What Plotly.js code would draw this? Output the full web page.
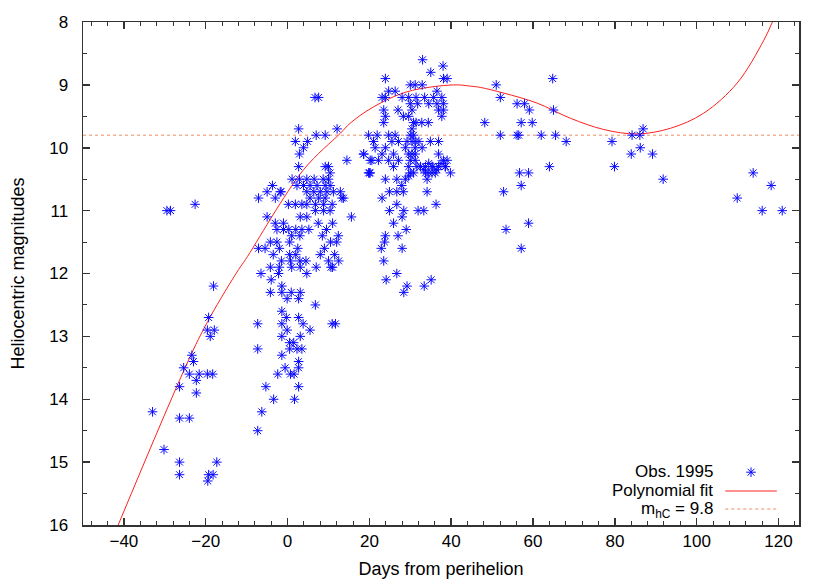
<!DOCTYPE html>
<html>
<head>
<meta charset="utf-8">
<script src="https://cdn.plot.ly/plotly-3.0.1.min.js"></script>
<style>
  body { margin: 0; background: #fff; }
  #plot { width: 830px; height: 581px; }
</style>
</head>
<body>
<div id="plot"></div>
<script>
const earlyDays = [-33, -30.2, -29.5, -28.6, -22.6, -26.4, -26.4, -24, -26.4, -26.4, -25.4, -24, -23.4, -23, -22.3, -22.3, -21.6,
  -19.6, -18.3, -19.3, -19.6, -17.9, -18.9, -18.1, -17.3, -19.3, -18.2, -19.5];
const earlyMag = [14.2, 14.8, 11.0, 11.0, 10.9, 13.8, 14.3, 14.3, 15.0, 15.2, 13.5, 13.6, 13.3, 13.4, 13.7, 13.9, 13.6,
  13.6, 13.6, 12.7, 12.9, 12.9, 13.0, 12.2, 15.0, 15.2, 15.2, 15.3];

const faintDays = [-6.5, -4.2, -2.2, -4, 0.7, 3.1, 4.7, 10.6, -1.4, -1.4, -4.2, 0.9, 3.1, -0.1, 2.7, 6.8,
  -1.4, -0.3, 2.7, -7.3, -1.4, 3.8, 10.9, 11.7, -0.1, 5.5, -1.4, 3.1, 0.5, 1.5, -7.3, 0.5, 2.3, 3.5,
  -1.4, 2.7, -0.6, 2.7, -2.4, 0.7, 1.6, -5.3, 2.7, -3.4, 1.7, -6.3, -7.3];
const faintMag = [12.0, 11.9, 12.0, 12.1, 11.8, 11.9, 12.0, 11.9, 12.2, 12.3, 12.3, 12.3, 12.3, 12.4, 12.4, 12.5,
  12.6, 12.7, 12.7, 12.8, 12.8, 12.8, 12.8, 12.8, 12.9, 12.9, 13.0, 13.0, 13.1, 13.1, 13.2, 13.2, 13.2, 13.2,
  13.3, 13.4, 13.5, 13.5, 13.6, 13.6, 13.6, 13.8, 13.8, 14.0, 14.0, 14.2, 14.5];

const nearDays = [6.7, 7.6, 2.7, 7.0, 9.2, 12.1, 1.9, 4.9, 3.9, 2.9, 14.5, 2.7, 9.2, 10.0, 10.4,
  1.1, 2.9, 4.7, 6.5, 8.7, 10.0, -3.7, -1.6, 2.3, 3.9, 5.5, 7.2, 9.2, 10.4,
  -7.1, -5.0, -3.0, -1.8, 0.2, 1.9, 3.5, 4.7, 6.4, 8.0, 9.6, 11.2, 12.9,
  5.5, 7.6, 9.2, 13.3, 13.7, 4.7, 6.8, 8.8, 10.9, 6.8, 8.8, 10.4, 3.1, 4.7, -5.0, 15.6,
  -3.0, -1.0, -2.6, -1.0, 0.3, 2.0, 3.5, 5.2, 7.5, 9.5, 11.0, 12.4,
  -4.2, -2.6, 1.0, 3.0, 8.5, 10.5, 12.0, -7.1, -5.5, -2.0, 0.5, 2.5, 9.0, 11.5,
  -3.5, -1.5, 0.5, 2.0, 4.5, 8.0, 10.0, 12.5, -2.0, 1.0, 3.0, 7.0, 11.0];
const nearMag = [9.2, 9.2, 9.7, 9.8, 9.8, 9.7, 9.9, 9.9, 10.0, 10.1, 10.2, 10.3, 10.3, 10.3, 10.4,
  10.5, 10.5, 10.5, 10.5, 10.5, 10.5, 10.6, 10.7, 10.6, 10.6, 10.6, 10.6, 10.6, 10.6,
  10.8, 10.7, 10.8, 10.7, 10.9, 10.9, 10.9, 10.7, 10.7, 10.7, 10.7, 10.7, 10.7,
  10.8, 10.8, 10.8, 10.8, 10.8, 10.9, 10.9, 10.9, 10.9, 11.0, 11.0, 11.0, 11.1, 11.1, 11.1, 11.1,
  11.2, 11.2, 11.3, 11.3, 11.3, 11.3, 11.3, 11.3, 11.2, 11.3, 11.2, 11.4,
  11.5, 11.5, 11.4, 11.4, 11.4, 11.5, 11.5, 11.6, 11.6, 11.6, 11.5, 11.6, 11.6, 11.7,
  11.7, 11.8, 11.7, 11.7, 11.8, 11.7, 11.8, 11.8, 11.9, 11.9, 11.8, 11.9, 11.9];

const peakDays = [33, 38, 35, 38.1, 39, 23.9, 30, 31.2, 32.9, 24.7, 26.3, 23.9, 23.1, 28,
  29.6, 31.4, 33.5, 30, 31.8, 34.5, 36.5, 35.7, 37.7, 36.5, 38.1, 36.9, 38.1, 37.7,
  23.5, 23.9, 23.5, 27, 28.3, 29.6, 31.4, 32.8, 34.4, 30.4, 30.8,
  19.8, 21, 21.9, 24.7, 25.5, 26.3, 27.1, 29.2, 30, 31.2, 32.1, 34.9, 36.9,
  18.6, 21.4, 23.1, 23.9, 25.9, 28.8, 29.6, 31.2, 32.9, 36.9,
  20.2, 22.2, 24.7, 27.1, 30, 31.2, 38.1, 39,
  25.9, 29.6, 33.7, 35.3, 36.9, 38.6, 39.8, 19.8, 20.2, 30, 34.5, 36.1,
  23.9, 26.7, 28.8, 34.1, 27.9, 26.7, 24.9, 28.3, 34.1, 23.1, 26.7, 36.3,
  24.9, 28.4, 31.9, 33.3, 28, 25.9, 29, 23.9, 27, 23.7, 22.9, 28, 23.5, 26.7, 24.1, 35.1, 33.4, 29.2, 28.4,
  30.4, 30.8, 30.4, 31.2, 30.4, 31.6, 30.8, 29.6, 32.5, 33.3, 34.5, 35.5, 36.5, 37.5, 38.5, 33.7, 35.3,
  18.6, 20.6, 20.0];
const peakMag = [8.6, 8.7, 8.8, 8.9, 8.9, 8.9, 9.0, 9.0, 9.0, 9.1, 9.1, 9.2, 9.2, 9.2,
  9.2, 9.2, 9.2, 9.3, 9.3, 9.3, 9.1, 9.2, 9.2, 9.3, 9.3, 9.4, 9.4, 9.5,
  9.4, 9.5, 9.6, 9.4, 9.5, 9.5, 9.6, 9.6, 9.6, 9.7, 9.8,
  9.8, 9.9, 9.8, 9.8, 9.9, 9.8, 9.9, 9.9, 9.8, 9.9, 9.9, 9.9, 9.9,
  10.1, 10.0, 10.1, 10.0, 10.1, 10.0, 10.1, 10.1, 10.0, 10.1,
  10.2, 10.2, 10.2, 10.2, 10.2, 10.2, 10.2, 10.2,
  10.3, 10.3, 10.3, 10.3, 10.3, 10.3, 10.4, 10.4, 10.4, 10.4, 10.4, 10.4,
  10.5, 10.5, 10.5, 10.5, 10.6, 10.7, 10.7, 10.7, 10.7, 10.8, 10.9, 10.9,
  11.0, 11.0, 11.0, 11.0, 11.1, 11.2, 11.3, 11.4, 11.4, 11.5, 11.6, 11.6, 11.8, 12.0, 12.1, 12.1, 12.2, 12.2, 12.3,
  9.4, 9.6, 9.9, 10.0, 10.1, 10.3, 10.4, 10.45, 10.3, 10.35, 10.25, 10.3, 10.35, 10.25, 10.3, 10.4, 10.4,
  10.1, 10.2, 10.4];

const lateDays = [51, 64.8, 52, 56.1, 57.9, 59.1, 65, 48.2, 57.1, 59.8, 52, 56.1, 56.5, 62, 65.5, 68.1,
  79.3, 84.2, 86.1, 86.9, 84, 86.2, 89.2, 79.9, 91.8, 64, 56.7, 58.9, 57.1, 52.8, 53.4, 58.9, 57.1,
  113.8, 109.9, 118.2, 116, 120.9];
const lateMag = [9.0, 8.9, 9.2, 9.3, 9.3, 9.4, 9.4, 9.6, 9.6, 9.6, 9.8, 9.8, 9.8, 9.8, 9.8, 9.9,
  9.9, 9.8, 9.8, 9.7, 10.1, 10.0, 10.1, 10.3, 10.5, 10.3, 10.4, 10.4, 10.6, 10.7, 11.3, 11.2, 11.6,
  10.4, 10.8, 10.6, 11.0, 11.0];

// polynomial fit
const fitDays = [-41.4, -23.8, -18.9, -12, -10.3, 3.9, 12.9, 15.3, 21, 29.2, 40.6, 44.7, 47.1, 52.8, 61, 69.1,
  77.3, 85.4, 93.6, 101.7, 109.9, 116.4, 118.5];
const fitMag = [16.0, 13.32, 12.69, 11.94, 11.78, 10.35, 9.77, 9.61, 9.35, 9.11, 9.0, 9.02, 9.04, 9.13, 9.29, 9.53,
  9.71, 9.78, 9.69, 9.45, 8.97, 8.29, 8.0];

const mhC = 9.8;
const xRange = [-50, 125];
const yRange = [16, 8];

const obsDays = [].concat(earlyDays, faintDays, nearDays, peakDays, lateDays);
const obsMag = [].concat(earlyMag, faintMag, nearMag, peakMag, lateMag);

const fontFam = 'Liberation Sans, Arial, Helvetica, sans-serif';
const blue = '#0a0aff';
const red = '#ff2020';
const dashCol = '#ee8a60';
const starMarker = { symbol: 'asterisk-open', size: 8, color: blue, line: { color: blue, width: 1 } };

const data = [
  {
    x: xRange, y: [mhC, mhC],
    type: 'scatter', mode: 'lines',
    line: { color: dashCol, width: 1, dash: '3px,3px' }
  },
  {
    x: fitDays, y: fitMag,
    type: 'scatter', mode: 'lines',
    line: { color: red, width: 1, shape: 'spline', smoothing: 1 }
  },
  {
    x: obsDays, y: obsMag,
    type: 'scatter', mode: 'markers',
    marker: starMarker
  },
  // legend samples on a hidden overlay axis pair
  {
    x: [0.933], y: [0.105], xaxis: 'x2', yaxis: 'y2',
    type: 'scatter', mode: 'markers', marker: starMarker
  },
  {
    x: [0.897, 0.969], y: [0.0676, 0.0676], xaxis: 'x2', yaxis: 'y2',
    type: 'scatter', mode: 'lines', line: { color: red, width: 1 }
  },
  {
    x: [0.897, 0.969], y: [0.0318, 0.0318], xaxis: 'x2', yaxis: 'y2',
    type: 'scatter', mode: 'lines', line: { color: dashCol, width: 1, dash: '3px,3px' }
  }
];

const axisCommon = {
  showgrid: false,
  zeroline: false,
  showline: true,
  linecolor: '#333',
  linewidth: 1.5,
  mirror: 'ticks',
  ticks: 'inside',
  ticklen: 7,
  tickwidth: 1.5,
  tickcolor: '#333',
  tickfont: { family: fontFam, size: 17, color: '#000' }
};

const legendText = (txt, y) => ({
  text: txt, xref: 'paper', yref: 'paper', x: 0.882, y: y,
  xanchor: 'right', yanchor: 'middle', showarrow: false,
  font: { size: 17 }
});

const layout = {
  width: 830,
  height: 581,
  margin: { l: 83, r: 31, t: 22, b: 56 },
  paper_bgcolor: '#fff',
  plot_bgcolor: '#fff',
  showlegend: false,
  font: { family: fontFam, size: 17, color: '#000' },
  xaxis: Object.assign({}, axisCommon, {
    range: xRange,
    tick0: 0,
    dtick: 20,
    ticklabelstandoff: 0,
    minor: { dtick: 4, ticks: 'inside', ticklen: 4, tickwidth: 1, tickcolor: '#333' },
    title: { text: 'Days from perihelion', font: { family: fontFam, size: 18 }, standoff: 12 }
  }),
  yaxis: Object.assign({}, axisCommon, {
    range: yRange,
    tick0: 8,
    dtick: 1,
    ticklabelstandoff: 10,
    minor: { dtick: 0.5, ticks: 'inside', ticklen: 4, tickwidth: 1, tickcolor: '#333' },
    title: { text: 'Heliocentric magnitudes', font: { family: fontFam, size: 18 }, standoff: 20 }
  }),
  xaxis2: { overlaying: 'x', range: [0, 1], visible: false, fixedrange: true },
  yaxis2: { overlaying: 'y', range: [0, 1], visible: false, fixedrange: true },
  annotations: [
    legendText('Obs. 1995', 0.107),
    legendText('Polynomial fit', 0.0686),
    legendText('m<sub>hC</sub> = 9.8', 0.029)
  ]
};

Plotly.newPlot('plot', data, layout, { displayModeBar: false, staticPlot: true });
</script>
</body>
</html>
